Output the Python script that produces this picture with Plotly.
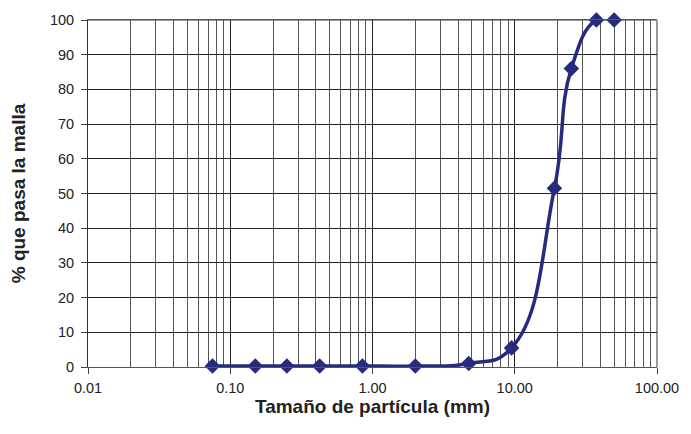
import plotly.graph_objects as go

# Grain-size distribution (sieve analysis)
tamano_mm = [0.075, 0.15, 0.25, 0.425, 0.85, 2.0, 4.75, 9.5, 19.0, 25.0, 37.5, 50.0]
pasa_pct = [0.3, 0.3, 0.3, 0.3, 0.3, 0.3, 1.0, 5.5, 51.5, 86.0, 100.0, 100.0]

x_tickvals = [0.01, 0.1, 1, 10, 100]
x_ticktext = ["0.01", "0.10", "1.00", "10.00", "100.00"]
y_tickvals = list(range(0, 101, 10))

navy = "#262b7c"
font = "Liberation Sans, Arial, sans-serif"

fig = go.Figure()
fig.add_trace(go.Scatter(
    x=tamano_mm,
    y=pasa_pct,
    mode="lines+markers",
    line=dict(color=navy, width=3.5, shape="spline", smoothing=1.3),
    marker=dict(symbol="diamond", size=12, color=navy),
    cliponaxis=False,
    showlegend=False,
))

fig.update_layout(
    width=691,
    height=434,
    margin=dict(l=88, r=26, t=18, b=67),
    paper_bgcolor="white",
    plot_bgcolor="white",
    font=dict(family=font, size=14.5, color="#222222"),
    xaxis=dict(
        type="log",
        range=[-2, 2],
        tickvals=x_tickvals,
        ticktext=x_ticktext,
        ticks="outside",
        ticklen=6,
        tickcolor="#444444",
        showline=True,
        linecolor="#555555",
        linewidth=1,
        mirror=True,
        showgrid=True,
        gridcolor="#222222",
        gridwidth=1,
        minor=dict(dtick="D1", showgrid=True, gridcolor="#555555", gridwidth=1, ticks=""),
        zeroline=False,
        ticklabelstandoff=2,
        tickfont=dict(size=14.5, color="#222222"),
        title=dict(text="<b>Tamaño de partícula (mm)</b>", font=dict(size=19, color="#222222"), standoff=2),
    ),
    yaxis=dict(
        range=[0, 100],
        tickvals=y_tickvals,
        ticks="outside",
        ticklen=6,
        tickcolor="#444444",
        showline=True,
        linecolor="#333333",
        linewidth=1,
        showgrid=True,
        gridcolor="#222222",
        gridwidth=1,
        zeroline=False,
        ticklabelstandoff=4,
        tickfont=dict(size=14.5, color="#222222"),
        title=dict(text="<b>% que pasa la malla</b>", font=dict(size=19, color="#222222"), standoff=19),
    ),
    shapes=[
        dict(type="line", xref="paper", yref="paper", x0=1, x1=1, y0=0, y1=1,
             line=dict(color="#999999", width=2), layer="below"),
        dict(type="line", xref="paper", yref="paper", x0=0, x1=1, y0=1, y1=1,
             line=dict(color="#999999", width=2), layer="below"),
    ],
)

fig.write_html("out.html")
